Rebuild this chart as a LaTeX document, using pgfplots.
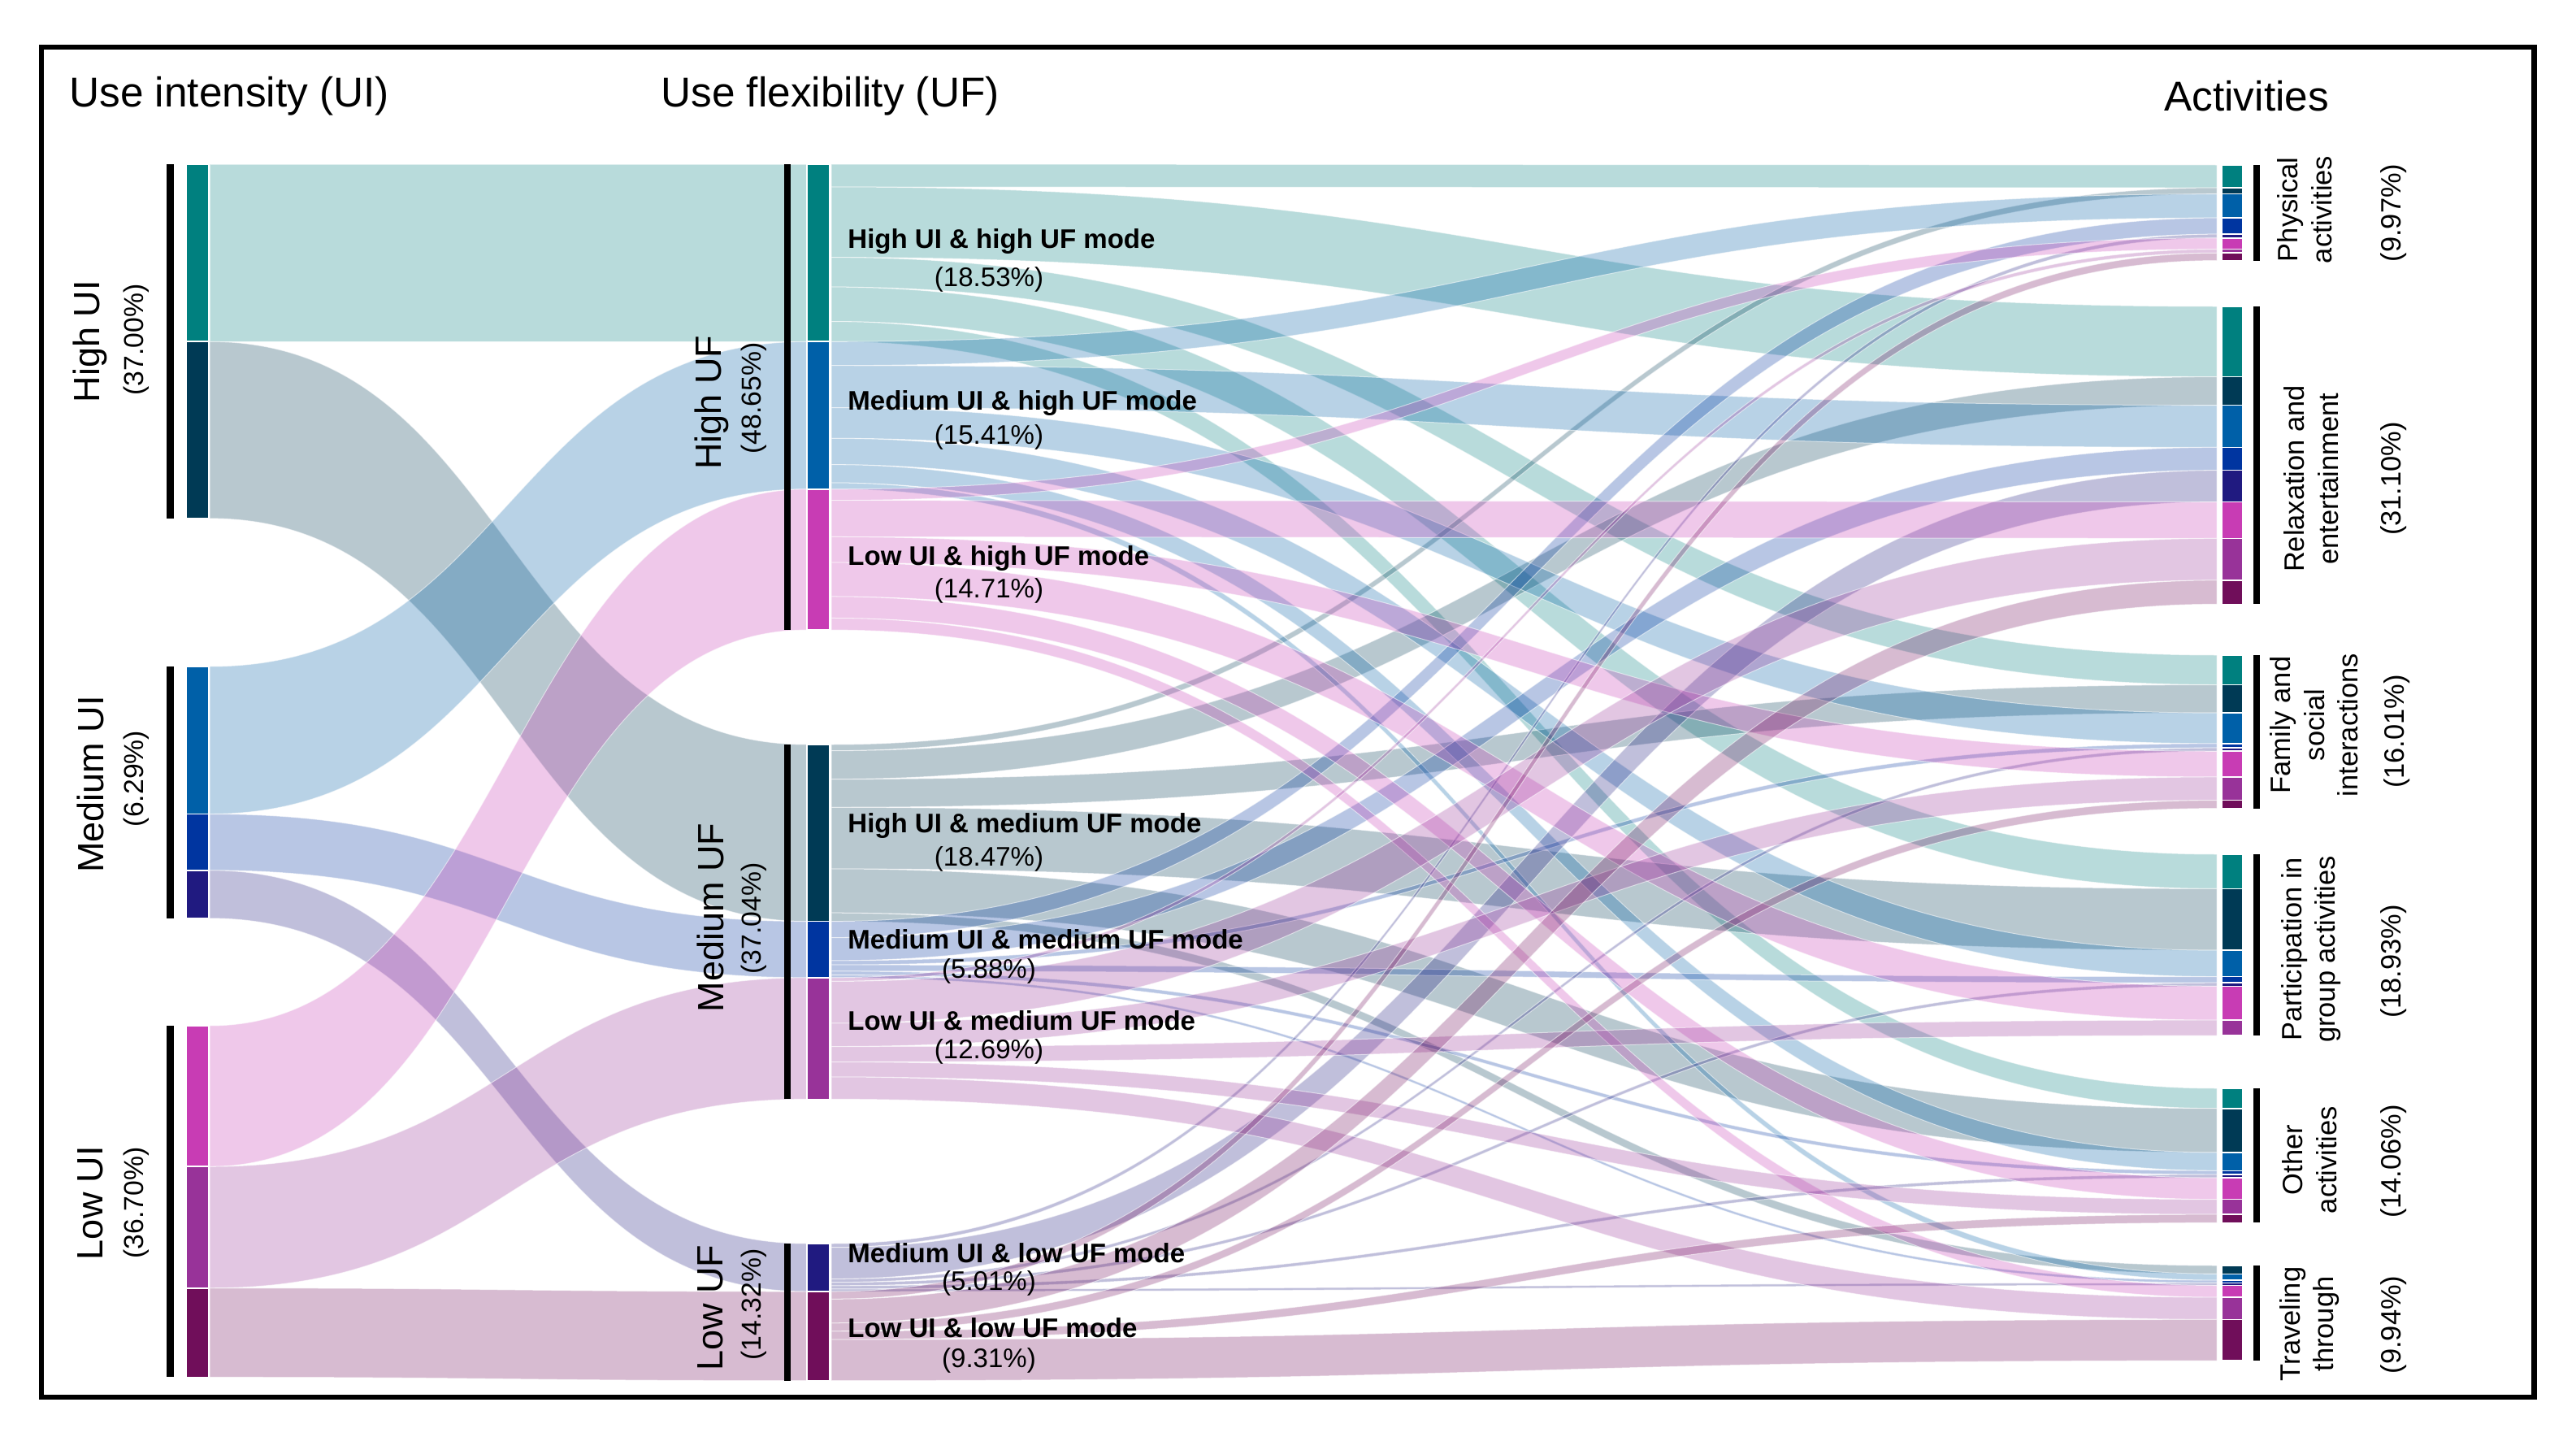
\documentclass[border=0pt]{standalone}
\usepackage{pgfplots}
\pgfplotsset{compat=1.18}
\usepackage{pgfplotstable}
\usepackage{fontspec}
\setmainfont{Liberation Sans}

\definecolor{c0}{HTML}{00807F} % High UI & high UF
\definecolor{c1}{HTML}{003A55} % High UI & medium UF
\definecolor{c2}{HTML}{0060A8} % Medium UI & high UF
\definecolor{c3}{HTML}{0035A0} % Medium UI & medium UF
\definecolor{c4}{HTML}{201A80} % Medium UI & low UF
\definecolor{c5}{HTML}{C83CB4} % Low UI & high UF
\definecolor{c6}{HTML}{983399} % Low UI & medium UF
\definecolor{c7}{HTML}{700E5A} % Low UI & low UF

% flows: mode (rows) -> activity (columns), in percent
\pgfplotstableread{
P R F G O T
2.38 7.35 3.10 3.60 2.10 0
0.65 2.97 2.94 6.43 4.60 0.88
2.50 4.40 3.20 2.75 1.90 0.66
1.70 2.40 0.45 0.65 0.40 0.28
0.40 3.30 0.35 0.35 0.35 0.26
1.17 3.81 2.69 3.55 2.25 1.24
0.39 4.37 2.43 1.61 1.57 2.32
0.79 2.50 0.85 0 0.87 4.30
}\flowtab

% modes: share, top in the UI column, top in the UF column
\pgfplotstableread{
val lefttop midtop
18.53 202 202
18.47 420.28 916
15.41 820 420.28
5.88 1001.53 1133.58
5.01 1070.80 1530
14.71 1262 601.81
12.69 1435.28 1202.85
9.31 1584.77 1589.02
}\modetab

\newcommand\band[7]{%
  \pgfmathsetmacro\xm{(#2+#5)/2}%
  \fill[fill=#1, fill opacity=0.28, draw=white, draw opacity=0.55, line width=0.05mm]
   (axis cs:#2,#3) .. controls (axis cs:\xm,#3) and (axis cs:\xm,#6) .. (axis cs:#5,#6)
   -- (axis cs:#5,#7) .. controls (axis cs:\xm,#7) and (axis cs:\xm,#4) .. (axis cs:#2,#4) -- cycle;}

\newcommand\getv[2]{\edef\tmpget{\noexpand\pgfplotstablegetelem{#1}{#2}\noexpand\of\noexpand\flowtab}\tmpget}
\newcommand\getm[2]{\edef\tmpget{\noexpand\pgfplotstablegetelem{#1}{#2}\noexpand\of\noexpand\modetab}\tmpget}

\begin{document}
\begin{tikzpicture}
\begin{axis}[
  width=15.85cm, height=8.84cm, scale only axis,
  xmin=0, xmax=3170, ymin=0, ymax=1768, y dir=reverse,
  hide axis, clip=false]
\addplot[draw=none, fill=white] coordinates {(0,0) (3170,0) (3170,1768) (0,1768)} -- cycle;
\pgfplotsextra{%
  \def\kk{11.78}%
  % UI -> UF
  \foreach \i in {0,...,7}{%
    \getm{\i}{val}\pgfmathsetmacro\hh{\pgfplotsretval*\kk}%
    \getm{\i}{lefttop}\let\uiT\pgfplotsretval
    \getm{\i}{midtop}\let\ufT\pgfplotsretval
    \pgfmathsetmacro\uiB{\uiT+\hh}%
    \pgfmathsetmacro\ufB{\ufT+\hh}%
    \band{c\i}{258}{\uiT}{\uiB}{993}{\ufT}{\ufB}%
    \fill[c\i, draw=white, line width=0.08mm] (axis cs:229,\uiT) rectangle (axis cs:257,\uiB);
    \fill[c\i, draw=white, line width=0.08mm] (axis cs:993,\ufT) rectangle (axis cs:1021,\ufB);
  }%
  % UF modes -> activities
  \foreach \j/\t in {0/203,1/377,2/806,3/1051,4/1339,5/1557}{\expandafter\xdef\csname tcur\j\endcsname{\t}}%
  \foreach \i in {0,...,7}{%
    \getm{\i}{midtop}\xdef\scur{\pgfplotsretval}%
    \foreach \j/\c in {0/P,1/R,2/F,3/G,4/O,5/T}{%
      \getv{\i}{\c}\pgfmathsetmacro\hh{\pgfplotsretval*\kk}%
      \edef\tT{\csname tcur\j\endcsname}%
      \pgfmathsetmacro\tB{\tT+\hh}%
      \pgfmathsetmacro\sB{\scur+\hh}%
      \ifdim\hh pt>0.01pt
        \band{c\i}{1023}{\scur}{\sB}{2728}{\tT}{\tB}%
        \fill[c\i, draw=white, line width=0.08mm] (axis cs:2734,\tT) rectangle (axis cs:2760,\tB);
      \fi
      \xdef\scur{\sB}%
      \expandafter\xdef\csname tcur\j\endcsname{\tB}%
    }%
  }%
  % black bars
  \foreach \a/\b in {202/637.86,820/1129.82,1262/1694.44}{\fill[black] (axis cs:205,\a) rectangle (axis cs:214,\b);}
  \foreach \a/\b in {202/775.09,916/1352.34,1530/1698.69}{\fill[black] (axis cs:965,\a) rectangle (axis cs:973,\b);}
  \foreach \a/\b in {203/320.56,377/743.36,806/994.60,1051/1274.10,1339/1504.40,1557/1674.10}{\fill[black] (axis cs:2773,\a) rectangle (axis cs:2781,\b);}
  % frame
  \draw[line width=0.32mm] (axis cs:51,58) rectangle (axis cs:3118.5,1719);
  % mode labels
  \foreach \y/\t in {297/High UI \& high UF mode, 496/Medium UI \& high UF mode, 687/Low UI \& high UF mode,
    1016/High UI \& medium UF mode, 1156/Medium UI \& medium UF mode, 1256/Low UI \& medium UF mode,
    1542/Medium UI \& low UF mode, 1634/Low UI \& low UF mode}{%
    \node[anchor=west, inner sep=0, font=\bfseries\fontsize{4.7}{5.6}\selectfont] at (axis cs:1042,\y) {\t};
  }%
  \foreach \y/\t in {344/18.53, 538/15.41, 727/14.71, 1057/18.47, 1195/5.88, 1294/12.69, 1579/5.01, 1674/9.31}{%
    \node[inner sep=0, font=\fontsize{4.7}{5.6}\selectfont] at (axis cs:1217,\y) {(\t\%)};
  }%
}

% column titles
\node[anchor=west, inner sep=0, font=\fontsize{7.3}{8.7}\selectfont] at (axis cs:84,118) {Use intensity (UI)};
\node[anchor=west, inner sep=0, font=\fontsize{7.3}{8.7}\selectfont] at (axis cs:812,118) {Use flexibility (UF)};
\node[anchor=west, inner sep=0, font=\fontsize{7.3}{8.7}\selectfont] at (axis cs:2662,118) {Activities};

% UI labels
\node[rotate=90, inner sep=0, font=\fontsize{6.4}{7.6}\selectfont] at (axis cs:111,420) {High UI};
\node[rotate=90, inner sep=0, font=\fontsize{4.8}{5.8}\selectfont] at (axis cs:168,418) {(37.00\%)};
\node[rotate=90, inner sep=0, font=\fontsize{6.4}{7.6}\selectfont] at (axis cs:111,965) {Medium UI};
\node[rotate=90, inner sep=0, font=\fontsize{4.8}{5.8}\selectfont] at (axis cs:168,958) {(6.29\%)};
\node[rotate=90, inner sep=0, font=\fontsize{6.4}{7.6}\selectfont] at (axis cs:111,1480) {Low UI};
\node[rotate=90, inner sep=0, font=\fontsize{4.8}{5.8}\selectfont] at (axis cs:168,1480) {(36.70\%)};

% UF labels
\node[rotate=90, inner sep=0, font=\fontsize{6.4}{7.6}\selectfont] at (axis cs:876,495) {High UF};
\node[rotate=90, inner sep=0, font=\fontsize{4.8}{5.8}\selectfont] at (axis cs:928,490) {(48.65\%)};
\node[rotate=90, inner sep=0, font=\fontsize{6.4}{7.6}\selectfont] at (axis cs:874,1129) {Medium UF};
\node[rotate=90, inner sep=0, font=\fontsize{4.8}{5.8}\selectfont] at (axis cs:928,1130) {(37.04\%)};
\node[rotate=90, inner sep=0, font=\fontsize{6.4}{7.6}\selectfont] at (axis cs:874,1609) {Low UF};
\node[rotate=90, inner sep=0, font=\fontsize{4.8}{5.8}\selectfont] at (axis cs:928,1605) {(14.32\%)};

% activity labels
\node[rotate=90, align=center, inner sep=0, font=\fontsize{4.9}{5.9}\selectfont] at (axis cs:2836,258) {Physical\\activities};
\node[rotate=90, inner sep=0, font=\fontsize{4.9}{5.9}\selectfont] at (axis cs:2946,262) {(9.97\%)};
\node[rotate=90, align=center, inner sep=0, font=\fontsize{4.9}{5.9}\selectfont] at (axis cs:2844,589) {Relaxation and\\entertainment};
\node[rotate=90, inner sep=0, font=\fontsize{4.9}{5.9}\selectfont] at (axis cs:2946,589) {(31.10\%)};
\node[rotate=90, align=center, inner sep=0, font=\fontsize{4.9}{5.9}\selectfont] at (axis cs:2848,892) {Family and\\social\\interactions};
\node[rotate=90, inner sep=0, font=\fontsize{4.9}{5.9}\selectfont] at (axis cs:2950,900) {(16.01\%)};
\node[rotate=90, align=center, inner sep=0, font=\fontsize{4.9}{5.9}\selectfont] at (axis cs:2844,1168) {Participation in\\group activities};
\node[rotate=90, inner sep=0, font=\fontsize{4.9}{5.9}\selectfont] at (axis cs:2946,1183) {(18.93\%)};
\node[rotate=90, align=center, inner sep=0, font=\fontsize{4.9}{5.9}\selectfont] at (axis cs:2842,1427) {Other\\activities};
\node[rotate=90, inner sep=0, font=\fontsize{4.9}{5.9}\selectfont] at (axis cs:2946,1429) {(14.06\%)};
\node[rotate=90, align=center, inner sep=0, font=\fontsize{4.9}{5.9}\selectfont] at (axis cs:2842,1629) {Traveling\\through};
\node[rotate=90, inner sep=0, font=\fontsize{4.9}{5.9}\selectfont] at (axis cs:2946,1630) {(9.94\%)};
\end{axis}
\end{tikzpicture}
\end{document}
